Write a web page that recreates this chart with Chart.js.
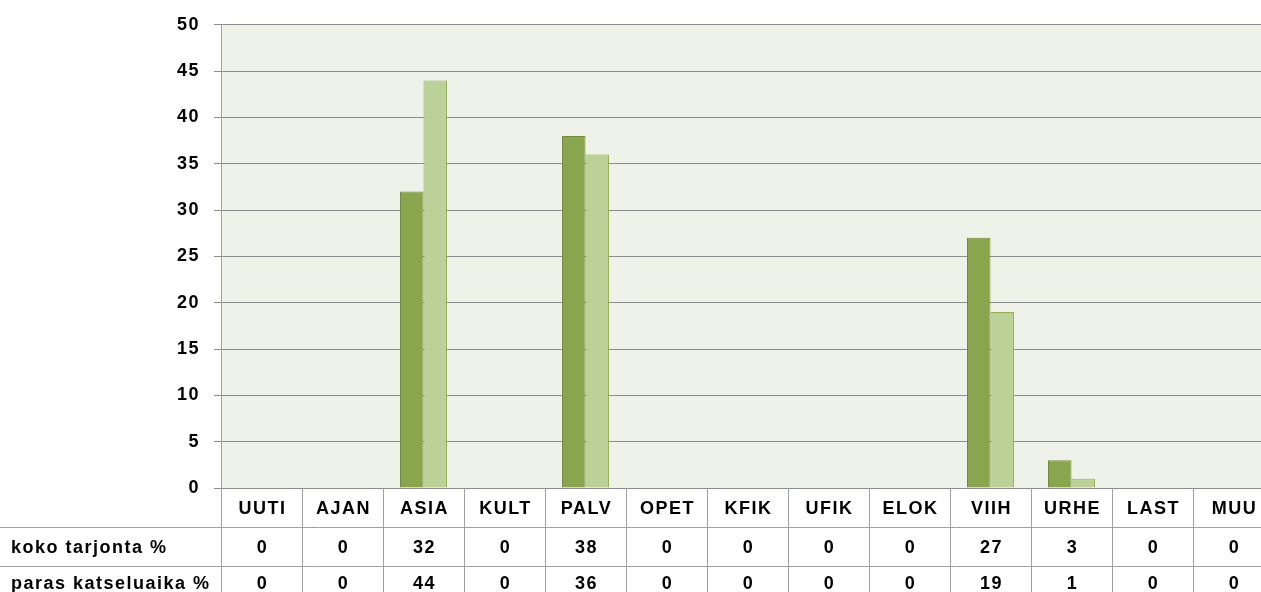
<!DOCTYPE html>
<html>
<head>
<meta charset="utf-8">
<script src="https://cdn.jsdelivr.net/npm/chart.js@4/dist/chart.umd.min.js"></script>
<style>
  html, body { margin: 0; padding: 0; background: #fff; overflow: hidden; }
  canvas { display: block; }
</style>
</head>
<body>
<canvas id="ohjelmat" width="1274" height="592"></canvas>
<script>
// data
const luokat = ['UUTI', 'AJAN', 'ASIA', 'KULT', 'PALV', 'OPET', 'KFIK', 'UFIK', 'ELOK', 'VIIH', 'URHE', 'LAST', 'MUU'];
const kokoTarjonta = [0, 0, 32, 0, 38, 0, 0, 0, 0, 27, 3, 0, 0];
const parasKatseluaika = [0, 0, 44, 0, 36, 0, 0, 0, 0, 19, 1, 0, 0];
const rivit = ['koko tarjonta %', 'paras katseluaika %'];
const yTicks = [0, 5, 10, 15, 20, 25, 30, 35, 40, 45, 50];

const FAMILY = '"Liberation Sans", Arial, sans-serif';
const FONT = 'bold 18px ' + FAMILY;
const SPACING = '1.5px';
const LINE = '#a0a0a0';

// plot background + letter spacing like the original
const taustaPlugin = {
  id: 'tausta',
  beforeDraw(chart) {
    const c = chart.ctx, a = chart.chartArea;
    c.letterSpacing = SPACING;
    c.save();
    c.fillStyle = '#eff2e9';
    c.fillRect(a.left, a.top, a.right - a.left, a.bottom - a.top);
    c.restore();
  }
};

// data table under the chart
const taulukkoPlugin = {
  id: 'taulukko',
  afterDraw(chart) {
    const c = chart.ctx, a = chart.chartArea, x = chart.scales.x;
    const w = (a.right - a.left) / luokat.length;
    const rowLines = [527.5, 566.5];
    c.save();
    c.strokeStyle = LINE;
    c.lineWidth = 1;
    c.beginPath();
    rowLines.forEach(y => { c.moveTo(0, y); c.lineTo(chart.width, y); });
    for (let k = 0; k <= luokat.length; k++) {
      const px = Math.round(a.left + k * w) + 0.5;
      c.moveTo(px, a.bottom);
      c.lineTo(px, chart.height);
    }
    c.stroke();

    c.fillStyle = '#000';
    c.font = FONT;
    c.letterSpacing = SPACING;
    c.textBaseline = 'middle';
    c.textAlign = 'center';
    const rivY = [509, 548, 584];
    const arvot = [kokoTarjonta, parasKatseluaika];
    luokat.forEach((l, i) => {
      const cx = x.getPixelForValue(i) + 1;
      c.fillText(l, cx, rivY[0]);
      c.fillText(String(arvot[0][i]), cx, rivY[1]);
      c.fillText(String(arvot[1][i]), cx, rivY[2]);
    });
    c.textAlign = 'left';
    rivit.forEach((r, j) => c.fillText(r, 11, rivY[j + 1]));
    c.restore();
  }
};

new Chart(document.getElementById('ohjelmat'), {
  type: 'bar',
  data: {
    labels: luokat,
    datasets: [{
      label: rivit[0],
      data: kokoTarjonta,
      backgroundColor: '#89a54e',
      borderColor: '#71893f',
      borderWidth: 1
    }, {
      label: rivit[1],
      data: parasKatseluaika,
      backgroundColor: '#bbd197',
      borderColor: '#93b05c',
      borderWidth: 1
    }]
  },
  options: {
    responsive: false,
    animation: false,
    layout: { padding: { left: 0, right: 0, top: 24, bottom: 104 } },
    datasets: { bar: { categoryPercentage: 0.58, barPercentage: 1 } },
    plugins: { legend: { display: false }, tooltip: { enabled: false } },
    scales: {
      x: { display: false },
      y: {
        min: 0,
        max: 50,
        afterFit(s) { s.width = 221; },
        afterBuildTicks(s) { s.ticks = yTicks.map(v => ({ value: v })); },
        ticks: { color: '#000', font: { family: FAMILY, size: 18, weight: 'bold' }, padding: 14 },
        grid: { color: '#8c8c8c', tickLength: 7 },
        border: { color: LINE }
      }
    }
  },
  plugins: [taustaPlugin, taulukkoPlugin]
});
</script>
</body>
</html>
